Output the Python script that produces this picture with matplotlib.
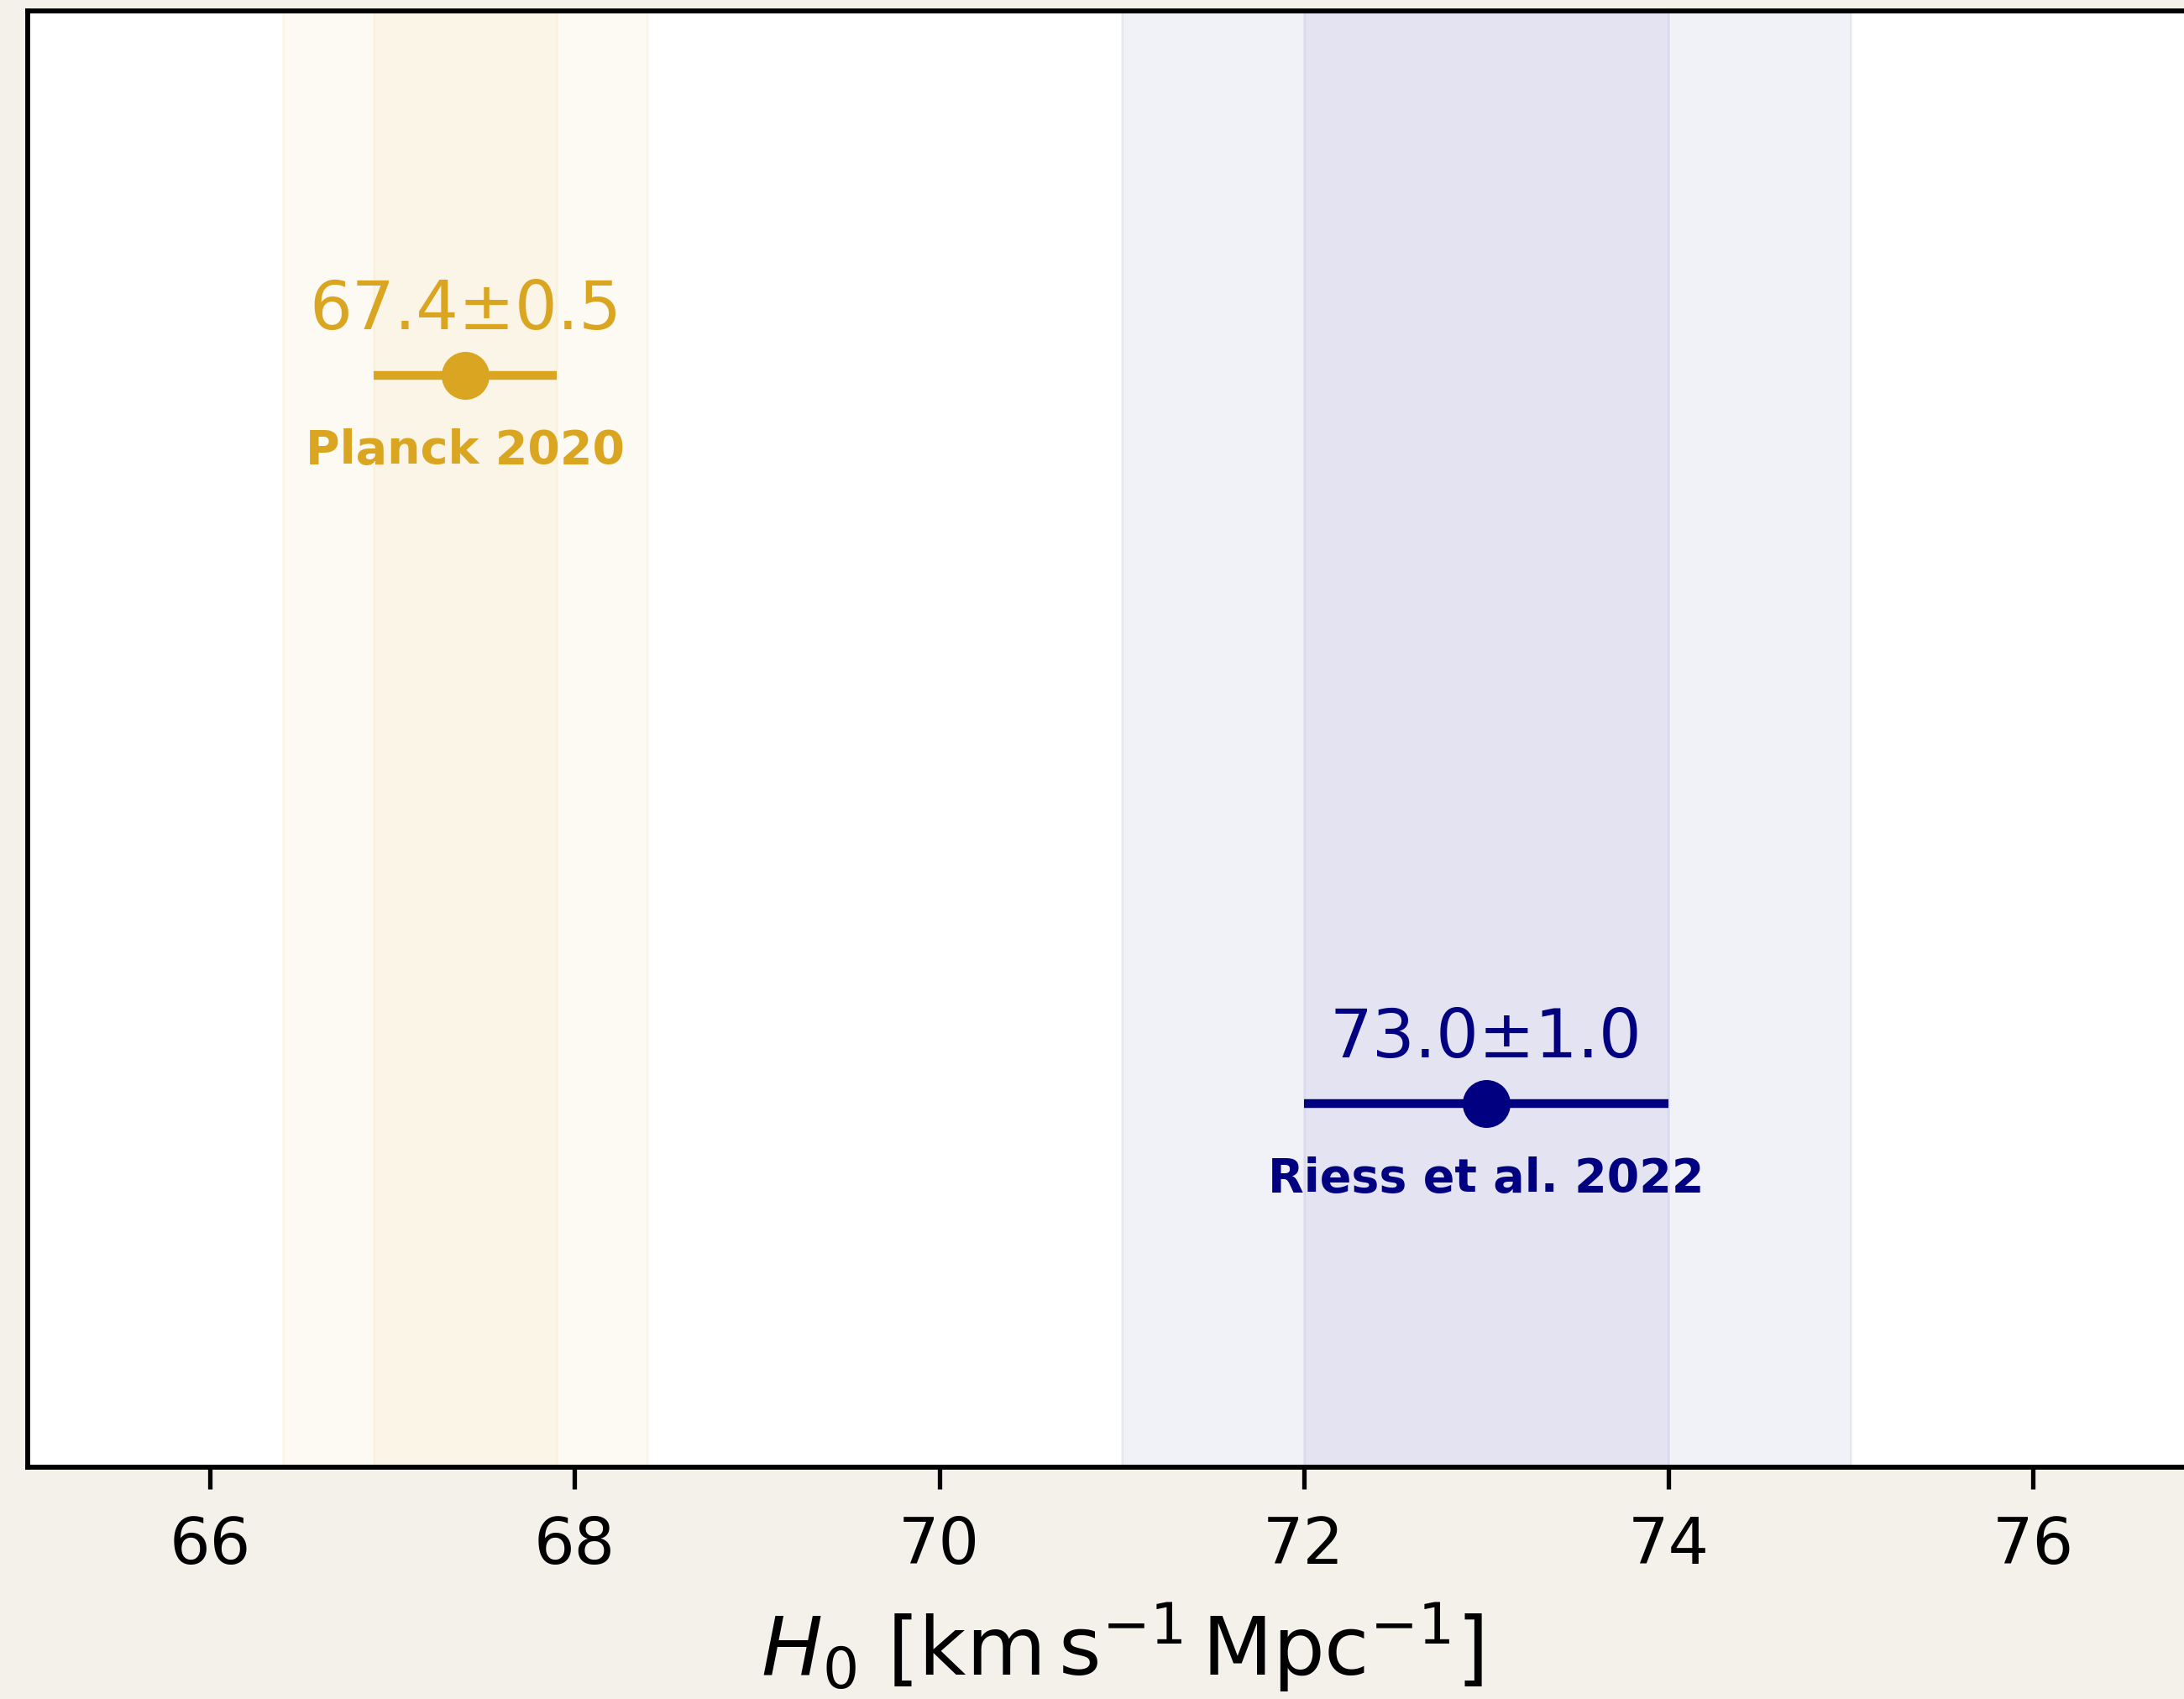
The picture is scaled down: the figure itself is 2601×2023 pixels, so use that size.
import matplotlib
matplotlib.use("Agg")
import matplotlib.pyplot as plt

# Hubble constant measurements
labels = ["Planck 2020", "Riess et al. 2022"]
h0_values = [67.4, 73.0]
h0_errors = [0.5, 1.0]
row_positions = [0.75, 0.25]
colors = ["#DAA520", "#000080"]

DPI = 100
W_PX, H_PX = 2601, 2023
fig = plt.figure(figsize=(W_PX / DPI, H_PX / DPI), dpi=DPI)
fig.patch.set_facecolor("#F3F1EA")

ax_left, ax_top, ax_bottom = 33, 13, 1747
px_per_unit = 217.1
xmin, xmax = 65, 77
ax = fig.add_axes([ax_left / W_PX, (H_PX - ax_bottom) / H_PX,
                   (xmax - xmin) * px_per_unit / W_PX, (ax_bottom - ax_top) / H_PX])
ax.set_facecolor("white")

for val, err, y, col, name in zip(h0_values, h0_errors, row_positions, colors, labels):
    # 2-sigma and 1-sigma bands
    ax.axvspan(val - 2 * err, val + 2 * err, color=col, alpha=0.055, lw=2, zorder=0)
    ax.axvspan(val - err, val + err, color=col, alpha=0.055, lw=2, zorder=0)
    ax.errorbar(val, y, xerr=err, fmt="o", color=col, ms=40, elinewidth=7.5,
                capsize=0, zorder=3)
    ax.text(val, y + 0.0314, f"{val:.1f}±{err:.1f}", color=col, fontsize=57.5,
            ha="center", va="baseline")
    ax.text(val, y - 0.0606, name, color=col, fontsize=40, fontweight="bold",
            ha="center", va="baseline")

ax.set_xlim(xmin, xmax)
ax.set_ylim(0, 1)
ax.set_xticks([66, 68, 70, 72, 74, 76])
ax.set_yticks([])
ax.tick_params(axis="x", direction="out", length=19, width=3.8, pad=22,
               labelsize=55)
for sp in ax.spines.values():
    sp.set_linewidth(4.2)
    sp.set_color("black")

ax.set_xlabel(r"$H_0$ [km$\,$s$^{-1}$$\,$Mpc$^{-1}$]", fontsize=70, labelpad=20)

fig.savefig("out.png", dpi=DPI, facecolor=fig.get_facecolor())
